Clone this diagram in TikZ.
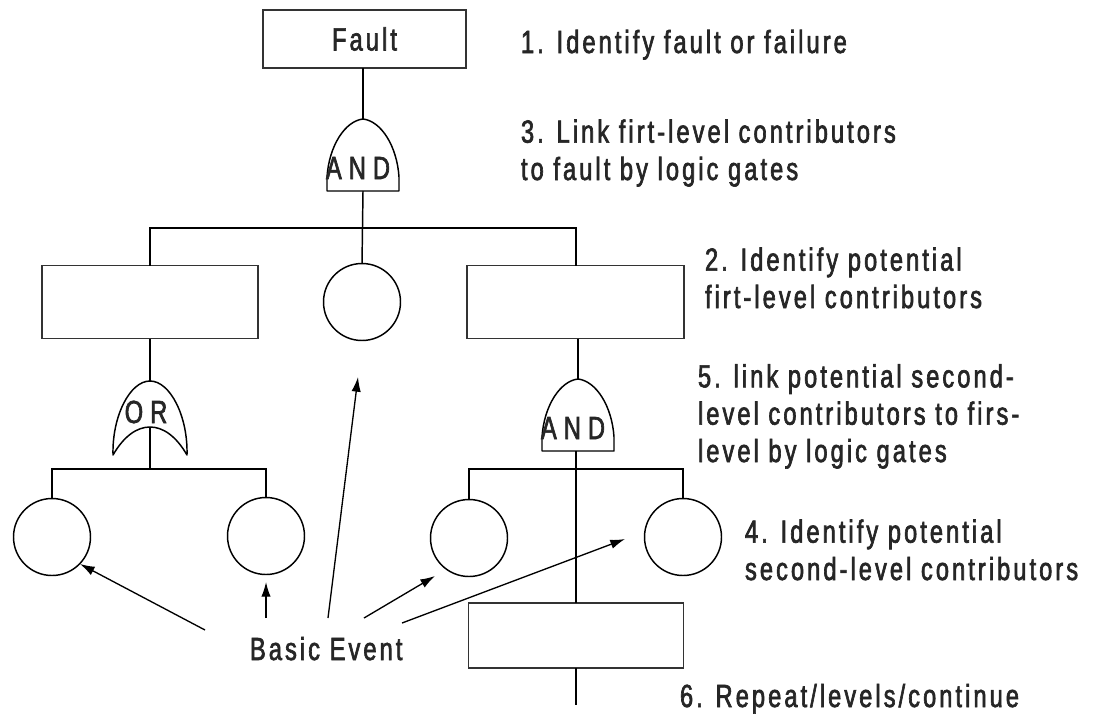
\documentclass[tikz,border=0pt]{standalone}
\usepackage{fontspec}
\setmainfont{Liberation Sans}[FakeStretch=0.74,LetterSpace=9.5,FakeBold=2]
\usetikzlibrary{arrows.meta}

\tikzset{
  gate/.style={draw, fill=white, line join=round},
  glabel/.style={font=\fontsize{24}{26}\selectfont\addfontfeature{LetterSpace=22}},
  % AND gate: apex at the origin, flat base 72 units below
  andgate/.pic={
    \draw[gate] (-36,72) -- (-36,58) .. controls (-34,27) and (-18,2) .. (0,0)
                .. controls (18,2) and (34,27) .. (36,58) -- (36,72) -- cycle;
    \node[glabel] (-lbl) at (-5,49) {AND};
    \coordinate (-top) at (0,0);
    \coordinate (-out) at (0,72);
  },
  % OR gate: apex at the origin, curved base
  orgate/.pic={
    \draw[gate] (-37,74) .. controls (-38,35) and (-20,0) .. (0,0)
                .. controls (20,0) and (38,35) .. (37,74)
                .. controls (26,55) and (13,46) .. (0,46)
                .. controls (-13,46) and (-26,55) .. (-37,74) -- cycle;
    \node[glabel] (-lbl) at (-4,31) {OR};
    \coordinate (-top) at (0,0);
    \coordinate (-out) at (0,46);
  }
}

\begin{document}
\begin{tikzpicture}[x=0.75pt,y=-0.75pt,
  line width=1.1pt,
  every node/.style={inner sep=0pt, outer sep=0pt, text=black!85},
  txt/.style={font=\fontsize{24}{28}\selectfont, anchor=base west, align=left},
  eventbox/.style={draw=black!80, line width=1.3pt, rectangle},
  basic/.style={draw, circle, minimum size=77*0.75pt},
  pointer/.style={-{Latex[length=11pt,width=7pt]}, line width=1pt}
]
\useasboundingbox (0,0) rectangle (1094,714);

% events
\node[eventbox, minimum width=203*0.75pt, minimum height=58*0.75pt,
      font=\fontsize{24}{26}\selectfont] (fault) at (364.5,39) {Fault};
\node[eventbox, minimum width=216*0.75pt, minimum height=73*0.75pt] (boxL) at (150,302) {};
\node[basic] (mid) at (362,302) {};
\node[eventbox, minimum width=217*0.75pt, minimum height=73*0.75pt] (boxR) at (575.5,302) {};
\node[basic] (c1) at (52,537) {};
\node[basic] (c2) at (266,536) {};
\node[basic] (c3) at (469,538) {};
\node[basic] (c4) at (683,537) {};
\node[eventbox, minimum width=215*0.75pt, minimum height=65*0.75pt] (bot) at (576,635.5) {};

% junction points of the tree
\coordinate (j1) at (150,228);
\coordinate (j2) at (576,228);
\coordinate (j3) at (150,469);
\coordinate (j4) at (576,469);
\coordinate (tail) at (576,705);

% gates
\pic (gA) at (363,119) {andgate};
\pic (gO) at (150,381) {orgate};
\pic (gB) at (578,379) {andgate};

% tree connectors
\draw (fault.south -| gA-top) -- (gA-top);
\draw (gA-out) -- (mid.north);
\draw (boxL.north -| j1) -- (j1) -- (j2) -- (boxR.north -| j2);
\draw (boxL.south -| j1) -- (gO-top);
\draw (gO-out) -- (j3);
\draw (c1.north) |- (j3) -| (c2.north);
\draw (boxR.south -| gB-top) -- (gB-top);
\draw (gB-out -| j4) -- (bot.north);
\draw (c3.north) |- (j4) -| (c4.north);
\draw (bot.south) -- (tail);

% basic event pointers
\node[txt] (be) at (250,660) {Basic Event};
\coordinate (a1s) at (205,630); \coordinate (a1e) at (80,564);
\coordinate (a2s) at (266,618); \coordinate (a2e) at (266,582);
\coordinate (a3s) at (328,618); \coordinate (a3e) at (358,377);
\coordinate (a4s) at (364,618); \coordinate (a4e) at (435,576);
\coordinate (a5s) at (402,623); \coordinate (a5e) at (625,539);
\draw[pointer] (a1s) -- (a1e);
\draw[pointer] (a2s) -- (a2e);
\draw[pointer] (a3s) -- (a3e);
\draw[pointer] (a4s) -- (a4e);
\draw[pointer] (a5s) -- (a5e);

% step descriptions (base anchor sits on the last line)
\node[txt] (t1) at (521,53) {1. Identify fault or failure};
\node[txt] (t3) at (521,180) {3. Link firt-level contributors\\to fault by logic gates};
\node[txt] (t2) at (705,308) {2. Identify potential\\firt-level contributors};
\node[txt] (t5) at (698,462) {5. link potential second-\\level contributors to firs-\\level by logic gates};
\node[txt] (t4) at (745,580) {4. Identify potential\\second-level contributors};
\node[txt] (t6) at (680,707) {6. Repeat/levels/continue};
\end{tikzpicture}
\end{document}
